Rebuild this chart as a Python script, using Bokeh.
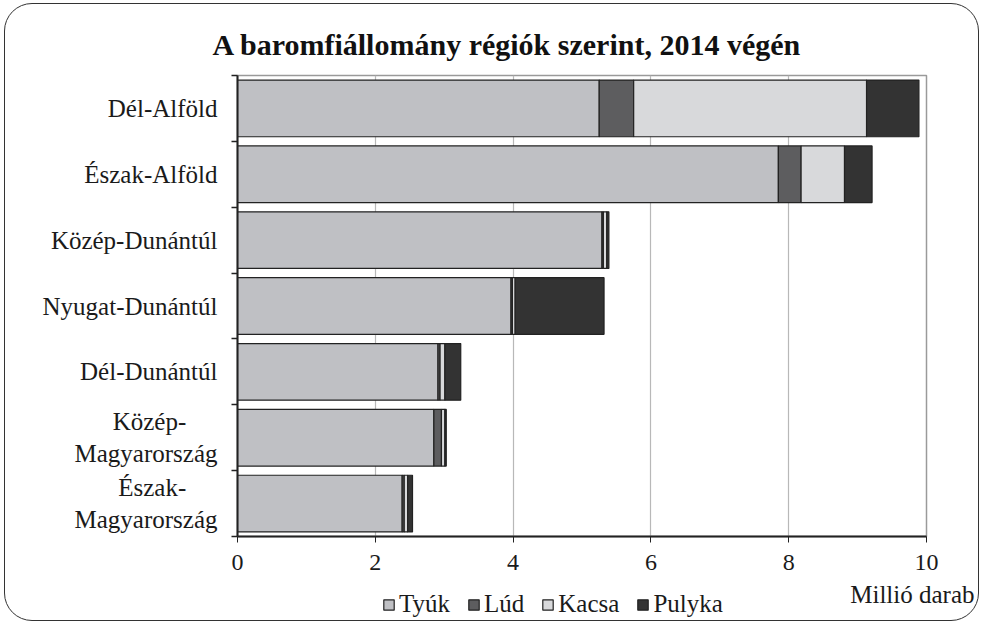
from bokeh.plotting import figure
from bokeh.layouts import column
from bokeh.models import (Range1d, FixedTicker, Legend, LegendItem, Label, ColumnDataSource)
from bokeh.embed import file_html
from bokeh.resources import INLINE

# ---- data ----
regions = ["Dél-Alföld", "Észak-Alföld", "Közép-Dunántúl", "Nyugat-Dunántúl",
           "Dél-Dunántúl", "Közép-\nMagyarország", "Észak-\nMagyarország"]
tyuk = [5.25, 7.85, 5.29, 3.97, 2.91, 2.85, 2.39]
lud = [0.50, 0.33, 0.02, 0.02, 0.03, 0.11, 0.03]
kacsa = [3.38, 0.63, 0.05, 0.04, 0.07, 0.05, 0.05]
pulyka = [0.76, 0.40, 0.03, 1.29, 0.23, 0.02, 0.07]
series = ["Tyúk", "Lúd", "Kacsa", "Pulyka"]
x_ticks = [0, 2, 4, 6, 8, 10]
title_text = "A baromfiállomány régiók szerint, 2014 végén"
unit_text = "Millió darab"

colors = ["#bfc0c4", "#5d5d5f", "#d8d9db", "#333333"]
FONT = "Liberation Serif, Times New Roman, DejaVu Serif, serif"
TXT = "#1a1a1a"
NBSP = "\u00a0"


def centred(label):
    # centre the first line of a two-line label over the second one
    lines = label.split("\n")
    if len(lines) == 2:
        pad = max(0, round((len(lines[1]) - len(lines[0])) * 0.9))
        return lines[0] + NBSP * pad + "\n" + lines[1]
    return label


pos = [i + 0.5 for i in range(len(regions))]
src = ColumnDataSource(dict(y=pos, Tyúk=tyuk, Lúd=lud, Kacsa=kacsa, Pulyka=pulyka))

p = figure(width=973, height=576, output_backend="svg", toolbar_location=None,
           x_range=Range1d(0, 10), y_range=Range1d(len(regions), 0),
           min_border_left=232, min_border_right=52, min_border_top=71,
           min_border_bottom=44)
p.border_fill_alpha = 0
p.outline_line_color = "#9a9a9a"
p.outline_line_width = 1.5

p.title.text = title_text
p.title.text_font = FONT
p.title.text_font_size = "30px"
p.title.text_font_style = "bold"
p.title.text_color = "#111111"
p.title.align = "left"
p.title.offset = -25
p.title.standoff = 29

renderers = p.hbar_stack(series, y="y", height=0.86, source=src, color=colors,
                         line_color="#222222", line_width=1.2)

# x axis
p.xaxis.ticker = FixedTicker(ticks=x_ticks)
p.xaxis.axis_line_color = "#222222"
p.xaxis.axis_line_width = 2
p.xaxis.major_tick_out = 6
p.xaxis.major_tick_in = 0
p.xaxis.major_tick_line_color = "#222222"
p.xaxis.minor_tick_line_color = None
p.xaxis.major_label_standoff = 12
p.xaxis.major_label_text_font = FONT
p.xaxis.major_label_text_font_size = "24px"
p.xaxis.major_label_text_color = TXT

# y axis: labels at centres, ticks at boundaries
p.yaxis.ticker = FixedTicker(ticks=pos, minor_ticks=list(range(len(regions) + 1)))
p.yaxis.major_label_overrides = {pp: centred(r) for pp, r in zip(pos, regions)}
p.yaxis.axis_line_color = "#222222"
p.yaxis.axis_line_width = 2
p.yaxis.major_tick_out = 0
p.yaxis.major_tick_in = 0
p.yaxis.minor_tick_out = 6
p.yaxis.minor_tick_in = 0
p.yaxis.minor_tick_line_color = "#222222"
p.yaxis.minor_tick_line_width = 1.5
p.yaxis.major_label_standoff = 14
p.yaxis.major_label_text_font = FONT
p.yaxis.major_label_text_font_size = "25px"
p.yaxis.major_label_text_color = TXT

p.xgrid.grid_line_color = "#b8b8b8"
p.xgrid.grid_line_width = 1.2
p.ygrid.grid_line_color = None

# ---- legend strip below the chart ----
lg = figure(width=973, height=40, output_backend="svg", toolbar_location=None,
            x_range=Range1d(0, 10), y_range=Range1d(100, 101),
            x_axis_type=None, y_axis_type=None, min_border=0)
lg.frame_align = False
lg.border_fill_alpha = 0
lg.background_fill_alpha = 0
lg.outline_line_color = None
lg.grid.grid_line_color = None
lg_rends = lg.hbar_stack(series, y="y", height=0.86, source=src, color=colors,
                         line_color="#222222", line_width=1.2)

legend = Legend(items=[LegendItem(label=s, renderers=[r]) for s, r in zip(series, lg_rends)],
                orientation="horizontal", location=(377, 2),
                label_text_font=FONT, label_text_font_size="25px", label_text_color=TXT,
                glyph_width=13, glyph_height=13, label_standoff=4, spacing=17,
                padding=0, margin=0, border_line_color=None, background_fill_alpha=0)
lg.add_layout(legend, "center")
lg.add_layout(Label(x=969, y=26, x_units="screen", y_units="screen", text=unit_text,
                    text_align="right", text_baseline="middle", text_font=FONT,
                    text_font_size="25px", text_color=TXT))

layout = column(p, lg, spacing=0)
layout.styles = {"margin": "3px 4px", "border": "1.5px solid #333", "border-radius": "28px"}

open("out.html", "w").write(file_html(layout, INLINE))
